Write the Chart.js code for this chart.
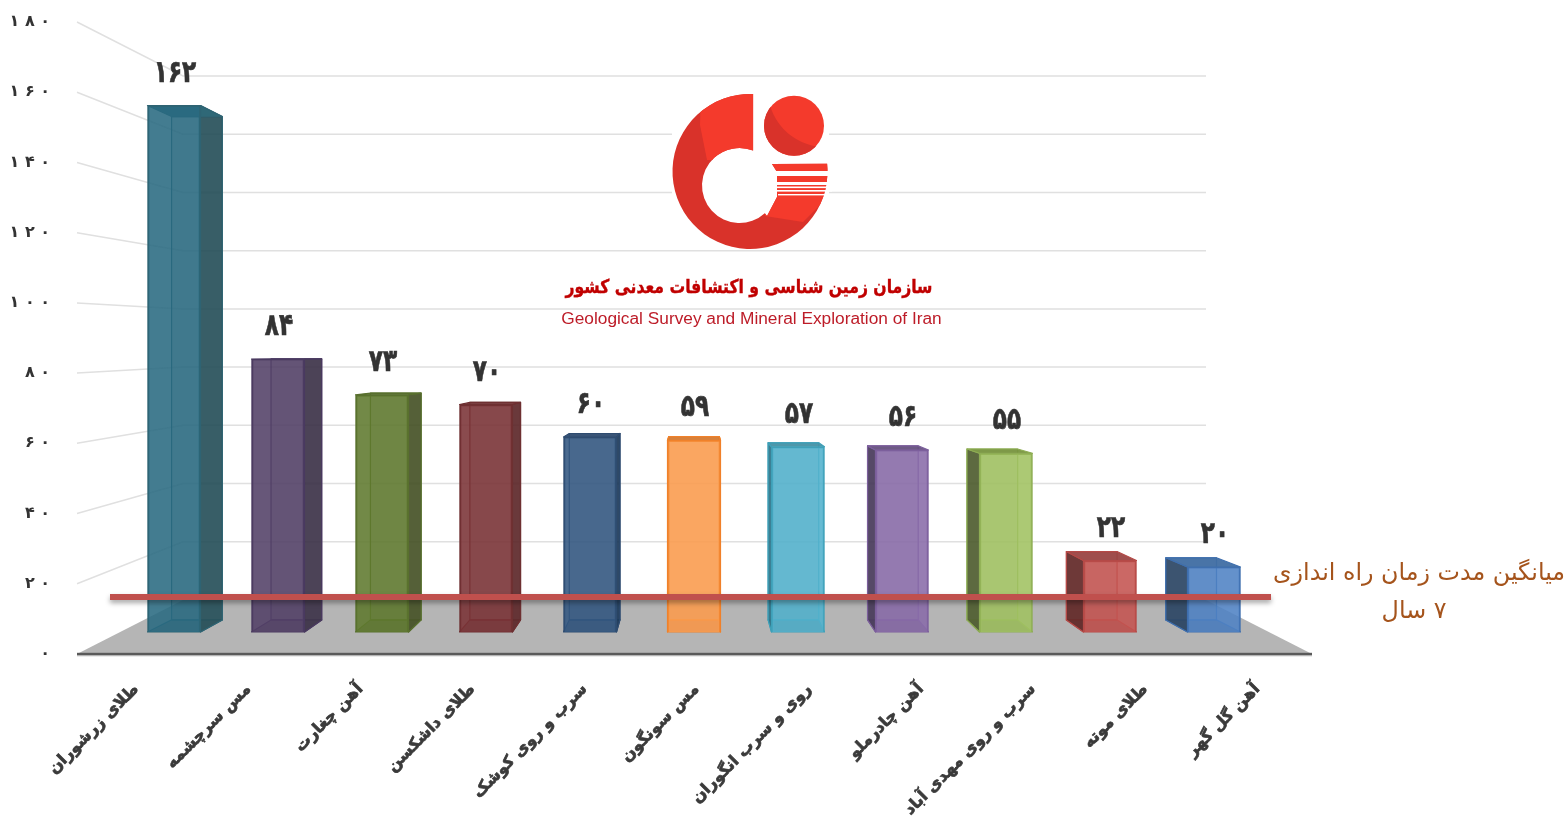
<!DOCTYPE html>
<html lang="fa">
<head>
<meta charset="utf-8">
<title>Mines</title>
<script src="https://cdn.jsdelivr.net/npm/chart.js@4/dist/chart.umd.min.js"></script>
<style>
html,body{margin:0;padding:0;background:#fff;overflow:hidden}
canvas{display:block;filter:blur(.45px)}
</style>
</head>
<body>
<canvas id="c" width="1567" height="822"></canvas>
<script>
// ---------- data ----------
const categories = ['طلای زرشوران','مس سرچشمه','آهن چغارت','طلای داشکسن','سرب و روی کوشک','مس سونگون','روی و سرب انگوران','آهن چادرملو','سرب و روی مهدی آباد','طلای موته','آهن گل گهر'];
const values = [162,84,73,70,60,59,57,56,55,22,20];
const axisTicks = [0,20,40,60,80,100,120,140,160,180];
const faceColors = ['#437c90','#675778','#728947','#8a4b4d','#4b6a90','#fba964','#67bbd3','#977db3','#abc874','#cb6865','#6391cb'];
const edgeColors = ['#2f6473','#4a3a60','#59702f','#6e3032','#2f4c70','#f0812a','#3fa0b8','#7c5f9c','#8ead54','#b54a47','#3f6fae'];
const sideColors = ['#395f68','#4d4458','#566139','#6b3a3c','#2f4a68','#d5823e','#3d7f92','#574a68','#5e6b41','#6f3a39','#3d5571'];
const topColors  = ['#38707f','#554663','#5f7638','#7a3f41','#3a5678','#d5823e','#4f97aa','#6f5b86','#7f9a49','#a04f4d','#4a75a8'];
const titleFa = 'سازمان زمین شناسی و اکتشافات معدنی کشور';
const titleEn = 'Geological Survey and Mineral Exploration of Iran';
const noteLines = ['میانگین مدت زمان راه اندازی','۷ سال'];

// ---------- helpers ----------
const fa = n => String(n).replace(/\d/g, d => '۰۱۲۳۴۵۶۷۸۹'[d]);
const spaced = n => fa(n).split('').join(' ');
const FONT = '"DejaVu Sans"';
const VP = {x:695, y:357}, DEPTH = 0.956;           // vanishing point of the 3D view
const back = (x,y) => [VP.x + (x-VP.x)*DEPTH, VP.y + (y-VP.y)*DEPTH];
function overWhite(hex, a){ // translucent colour that looks like hex on white
  const n = parseInt(hex.slice(1),16), ch = [n>>16,(n>>8)&255,n&255];
  const c = ch.map(v => Math.max(0,Math.round((v-255*(1-a))/a)));
  return `rgba(${c[0]},${c[1]},${c[2]},${a})`;
}
function poly(ctx, pts, fill, stroke){
  ctx.beginPath(); pts.forEach((p,i)=> i?ctx.lineTo(p[0],p[1]):ctx.moveTo(p[0],p[1])); ctx.closePath();
  if(fill){ctx.fillStyle=fill;ctx.fill();}
  if(stroke){ctx.strokeStyle=stroke;ctx.lineWidth=1.2;ctx.lineJoin='round';ctx.stroke();}
}

class PerspectiveCategory extends Chart.CategoryScale {
  static id = 'perspectiveCategory';
  static defaults = Chart.CategoryScale.defaults;
  getPixelForTick(i){ const p = super.getPixelForTick(i); return VP.x + (p-VP.x)*1.078 + 3; }
}
Chart.register(PerspectiveCategory);

function drawLogo(ctx){
  const dark='#d9322a', light='#f43a2c';
  ctx.save();
  ctx.fillStyle='#fff'; ctx.fillRect(672,94,157,156);
  const C={x:750,y:171.5,r:77.5}, H={x:739.5,y:185.5,r:37.5};
  const ring=new Path2D();
  ring.arc(C.x,C.y,C.r,-Math.PI/2+0.04,-0.1,true);
  ring.lineTo(772,164); ring.lineTo(777,172); ring.lineTo(777,197); ring.lineTo(767,216);
  ring.arc(H.x,H.y,H.r,0.83,2*Math.PI-1.2,false);
  ring.closePath();
  ctx.fillStyle=dark; ctx.fill(ring);
  ctx.save(); ctx.clip(ring);
  ctx.fillStyle=light;
  ctx.beginPath(); ctx.moveTo(701,90); ctx.lineTo(700,125); ctx.lineTo(707,160); ctx.lineTo(760,160); ctx.lineTo(760,90); ctx.closePath(); ctx.fill();
  ctx.beginPath(); ctx.moveTo(760,160); ctx.lineTo(835,160); ctx.lineTo(835,190); ctx.lineTo(803,222); ctx.lineTo(765,216); ctx.closePath(); ctx.fill();
  ctx.restore();
  ctx.fillStyle='#fff';
  [[171,5],[182,3],[186.5,1.6],[190,1.6]].forEach(s=>ctx.fillRect(770,s[0],62,s[1]));
  ctx.fillRect(778,194,52,1.4);
  // ball
  ctx.fillStyle=light; ctx.beginPath(); ctx.arc(794,125.7,30,0,2*Math.PI); ctx.fill();
  ctx.save(); ctx.beginPath(); ctx.arc(794,125.7,30,0,2*Math.PI); ctx.clip();
  ctx.fillStyle=dark; ctx.beginPath(); ctx.arc(794,125.7,31,0,2*Math.PI);
  ctx.moveTo(829,150); ctx.arc(825,90,57,Math.PI*0.45,Math.PI*1.1); ctx.lineTo(835,80); ctx.closePath();
  ctx.fill('evenodd'); ctx.restore();
  ctx.restore();
}

const scene = {
  id:'scene',
  beforeDatasetsDraw(chart){
    const ctx=chart.ctx, wall=chart.scales.yWall, left=chart.scales.y;
    const wl=183, wr=1206, fl=77, fr=1312;
    ctx.save();
    // walls
    ctx.lineWidth=1.5; ctx.strokeStyle='#e0e0e0';
    axisTicks.forEach(t=>{
      const yw=wall.getPixelForValue(t);
      if(t>0){
        ctx.beginPath(); ctx.moveTo(fl,left.getPixelForValue(t)); ctx.lineTo(wl,yw); ctx.lineTo(wr,yw); ctx.stroke();
      }
    });
    // floor
    const y0=wall.getPixelForValue(0), yf=left.getPixelForValue(0);
    poly(ctx,[[wl,y0],[wr,y0],[fr,yf],[fl,yf]],'#b5b5b5');
    ctx.fillStyle='#5a5a5a'; ctx.fillRect(fl,yf-1.2,fr-fl,2.6);
    ctx.fillStyle='rgba(0,0,0,.08)'; ctx.fillRect(fl,yf+1.4,fr-fl,1.6);
    drawLogo(ctx);
    ctx.textAlign='center'; ctx.textBaseline='middle';
    ctx.direction='rtl';
    ctx.fillStyle='#c00000'; ctx.font='bold 19px '+FONT;
    ctx.strokeStyle='#c00000'; ctx.lineWidth=.4;
    ctx.fillText(titleFa,749,288,367); ctx.strokeText(titleFa,749,288,367);
    ctx.direction='ltr';
    ctx.fillStyle='#bd1c28'; ctx.font='17.3px "Liberation Sans"';
    ctx.fillText(titleEn,751.5,319);
    // 3D box faces behind the front of each bar
    chart.getDatasetMeta(0).data.forEach((b,i)=>{
      const xl=b.x-b.width/2, xr=b.x+b.width/2, yt=b.y, yb=b.base;
      const TL=back(xl,yt),TR=back(xr,yt),BL=back(xl,yb),BR=back(xr,yb);
      const side=overWhite(sideColors[i],.93), edge=edgeColors[i];
      poly(ctx,[TL,TR,BR,BL],overWhite(faceColors[i],.1),edge);
      poly(ctx,[[xl,yb],[xr,yb],BR,BL],overWhite(topColors[i],.3),edge);
      if(b.x<VP.x-5||Math.abs(b.x-VP.x)<=5) poly(ctx,[[xr,yt],TR,BR,[xr,yb]],side,edge);
      if(b.x>VP.x+5||Math.abs(b.x-VP.x)<=5) poly(ctx,[[xl,yt],TL,BL,[xl,yb]],side,edge);
      poly(ctx,[[xl,yt],[xr,yt],TR,TL],overWhite(topColors[i],.95),edge);
    });
    ctx.restore();
  },
  afterDatasetsDraw(chart){
    const ctx=chart.ctx;
    ctx.save();
    // average-time reference line and its note
    ctx.shadowColor='rgba(0,0,0,.35)'; ctx.shadowBlur=5; ctx.shadowOffsetY=3;
    ctx.fillStyle='#c0504d'; ctx.fillRect(110,594,1161,6);
    ctx.shadowColor='transparent';
    ctx.textAlign='center'; ctx.textBaseline='middle';
    ctx.direction='rtl';
    ctx.fillStyle='#a5541c'; ctx.font='23.8px '+FONT;
    ctx.fillText(noteLines[0],1419,574);
    ctx.fillText(noteLines[1],1414,612);
    ctx.direction='ltr';
    // value labels
    ctx.fillStyle='#333'; ctx.strokeStyle='#333'; ctx.lineWidth=.7; ctx.font='bold 31px '+FONT;
    chart.getDatasetMeta(0).data.forEach((b,i)=>{
      const t=fa(values[i]), w=ctx.measureText(t).width*.75;
      ctx.fillText(t,b.x+1,b.y-32,w); ctx.strokeText(t,b.x+1,b.y-32,w);
    });
    ctx.restore();
  }
};

new Chart(document.getElementById('c'),{
  type:'bar',
  data:{labels:categories,datasets:[{
    data:values, xAxisID:'x', yAxisID:'yFront',
    backgroundColor:faceColors.map(c=>overWhite(c,.88)),
    borderColor:edgeColors, borderWidth:1.5, barThickness:53
  }]},
  plugins:[scene],
  options:{
    responsive:false, animation:false,
    layout:{padding:{top:22,right:301,left:0,bottom:0}},
    plugins:{legend:{display:false},tooltip:{enabled:false},title:{display:false}},
    scales:{
      x:{type:'perspectiveCategory',position:'bottom',offset:true,
         grid:{display:false},border:{display:false},
         afterFit:s=>{s.height=168;s.paddingTop=s.paddingBottom=0},
         ticks:{minRotation:45,maxRotation:45,autoSkip:false,padding:18,
                textStrokeWidth:.7,textStrokeColor:'#3a3a3a',
                color:'#3a3a3a',font:{family:FONT,weight:'bold',size:16}}},
      y:{position:'left',min:0,max:180,
         afterBuildTicks:s=>{s.ticks=axisTicks.map(v=>({value:v}))},
         afterFit:s=>{s.width=122;s.paddingTop=s.paddingBottom=0},
         grid:{display:false},border:{display:false},
         ticks:{padding:64,color:'#333',font:{family:FONT,weight:'bold',size:16},callback:v=>spaced(v)}},
      // bars stand on the front plane: 0 sits above the axis line and 1 unit is 3.25px
      yFront:{display:false,min:-22/3.25,max:610/3.25},
      // back-wall gridlines
      yWall:{display:false,min:-54/2.911,max:578/2.911}
    }
  }
});
</script>
</body>
</html>
